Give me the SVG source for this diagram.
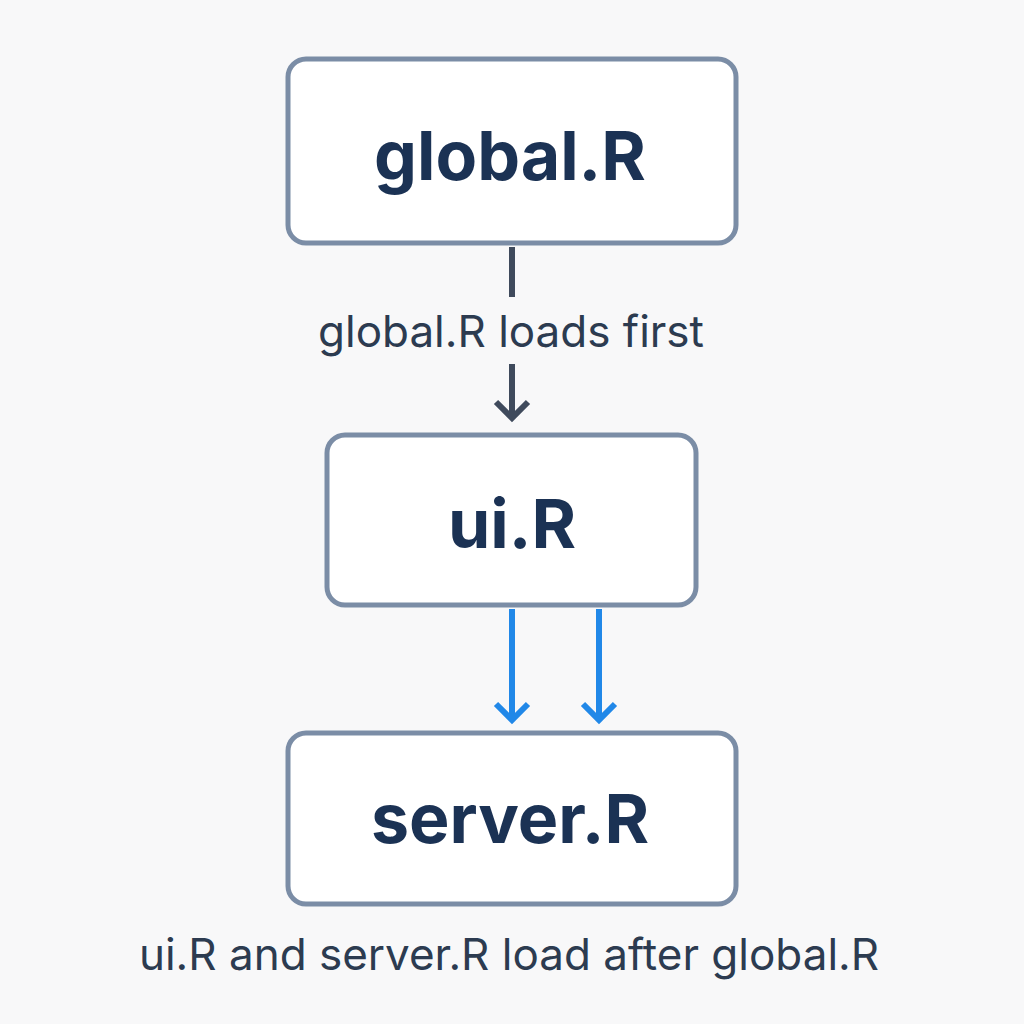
<svg xmlns="http://www.w3.org/2000/svg" width="1024" height="1024" viewBox="0 0 1024 1024">
<style>
.box{fill:#fff;stroke:#7b8da6;stroke-width:5}
.t{font-family:Inter,"Liberation Sans",sans-serif;font-weight:700;fill:#1b3254;text-anchor:middle;font-size:68px}
.l{font-family:Inter,"Liberation Sans",sans-serif;fill:#2c3b50;text-anchor:middle;font-size:44px}
.dk{stroke:#3f4a5c;stroke-width:6;fill:none}
.bl{stroke:#2188e8;stroke-width:6;fill:none}
</style>
<rect width="1024" height="1024" fill="#f8f8f9"/>
<g id="global"><rect class="box" x="288" y="59" width="448" height="184" rx="18"/><text class="t" x="510" y="180">global.R</text></g>
<g id="ui"><rect class="box" x="327" y="435" width="369" height="170" rx="18"/><text class="t" x="512" y="548">ui.R</text></g>
<g id="server"><rect class="box" x="288" y="733" width="448" height="171" rx="18"/><text class="t" x="510" y="843">server.R</text></g>
<g id="connectors">
<path class="dk" d="M512 247V297M512 364V417M496 402L512 418L528 402"/>
<text class="l" x="511" y="347">global.R loads first</text>
<path class="bl" d="M512 609V720M496 704L512 720L528 704M599 609V720M583 704L599 720L615 704"/>
</g>
<text class="l" x="509" y="970">ui.R and server.R load after global.R</text>
</svg>
